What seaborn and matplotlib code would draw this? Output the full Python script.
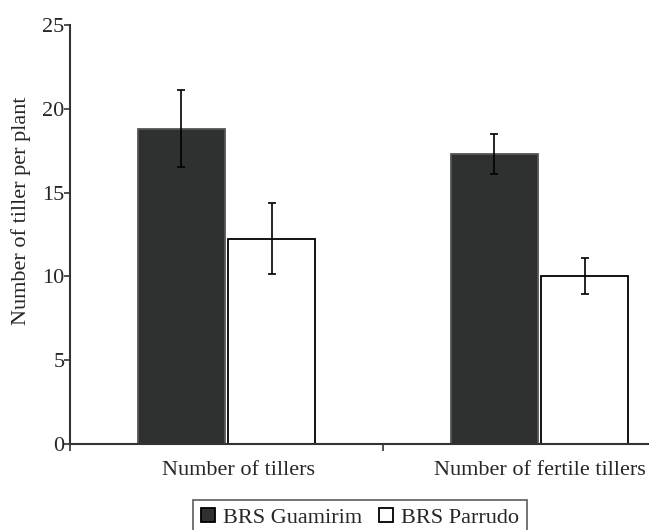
import matplotlib
matplotlib.use("Agg")
import matplotlib.pyplot as plt
import matplotlib.transforms as mtransforms
import pandas as pd
import seaborn as sns

# datos
categories = ["Number of tillers", "Number of fertile tillers"]
cultivars = ["BRS Guamirim", "BRS Parrudo"]
guamirim_mean = [18.8, 17.3]
guamirim_err = [2.3, 1.2]
parrudo_mean = [12.25, 10.0]
parrudo_err = [2.12, 1.07]

df = pd.DataFrame({
    "category": categories * 2,
    "cultivar": [cultivars[0]] * 2 + [cultivars[1]] * 2,
    "value": guamirim_mean + parrudo_mean,
})
errors = {cultivars[0]: guamirim_err, cultivars[1]: parrudo_err}

sns.set_style("ticks")
plt.rcParams["font.family"] = ["Liberation Serif", "DejaVu Serif"]
plt.rcParams["font.size"] = 16

fig = plt.figure(figsize=(6.49, 5.30), dpi=100)
ax = fig.add_axes([70 / 649, 86 / 530, 626 / 649, 419 / 530])

sns.barplot(data=df, x="category", y="value", hue="cultivar", order=categories,
            hue_order=cultivars, palette={cultivars[0]: "#2f3030", cultivars[1]: "white"},
            width=0.58, gap=0.04, errorbar=None, edgecolor="black", linewidth=1.3, ax=ax)

# barras de error a mano en el centro de cada barra
for cont, cv in zip(ax.containers, cultivars):
    xs = [b.get_x() + b.get_width() / 2 for b in cont]
    ys = [b.get_height() for b in cont]
    ax.errorbar(xs, ys, yerr=errors[cv], fmt="none", ecolor="black",
                elinewidth=1.2, capsize=2.9, capthick=1.2)
    if cv == cultivars[0]:
        for b in cont:
            b.set_edgecolor("#555555")

ax.set_xlim(-0.5, 1.5)
ax.set_ylim(0, 25)
ax.set_yticks([0, 5, 10, 15, 20, 25])
ax.set_xlabel("")
ax.set_ylabel("Number of tiller per plant", fontsize=16)
ax.yaxis.set_label_coords(-0.062, 0.556)
ax.set_xticks([-0.5, 0.5, 1.5], minor=True)
ax.tick_params(axis="x", which="major", length=0, pad=12, labelsize=16)
ax.tick_params(axis="x", which="minor", length=5, width=1.2, direction="out", color="#333333")
ax.tick_params(axis="y", length=4, width=1.2, direction="out", pad=0, labelsize=16, color="#333333")
for s in ["top", "right"]:
    ax.spines[s].set_visible(False)
for s in ["left", "bottom"]:
    ax.spines[s].set_linewidth(1.5)
    ax.spines[s].set_color("#333333")

# las etiquetas del original estan algo corridas a la derecha
for lab, dx in zip(ax.get_xticklabels(), [12, 0]):
    lab.set_transform(lab.get_transform() + mtransforms.ScaledTranslation(dx / 100, 0, fig.dpi_scale_trans))

handles, labels = ax.get_legend_handles_labels()
ax.get_legend().remove()
for h in handles:
    h.set_edgecolor("black")
leg = fig.legend(handles, labels, loc="upper center", bbox_to_anchor=(360 / 649, 1 - 489 / 530),
                 ncol=2, frameon=True, fancybox=False, fontsize=16, handlelength=0.63,
                 handleheight=0.63, handletextpad=0.35, columnspacing=0.8, borderpad=0.35)
leg.get_frame().set_edgecolor("#333333")
leg.get_frame().set_linewidth(1.2)

fig.savefig("out.png", dpi=100)
